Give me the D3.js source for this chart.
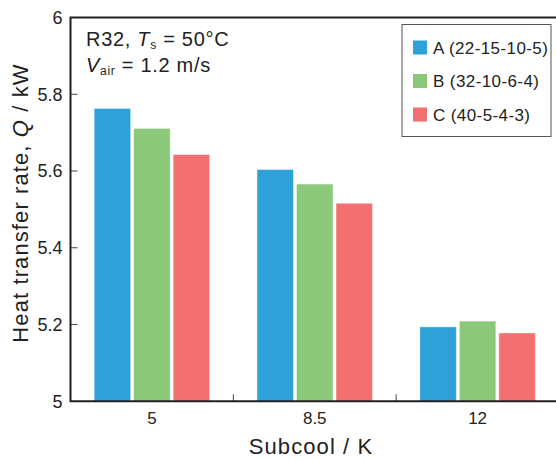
<!DOCTYPE html>
<html><head><meta charset="utf-8">
<script src="https://cdn.jsdelivr.net/npm/d3@7"></script>
<style>
html,body{margin:0;padding:0;background:#fff;}
svg{display:block;font-family:"Liberation Sans",Arial,Helvetica,sans-serif;}
</style></head>
<body>
<svg id="chart" width="556" height="461"></svg>
<script>
const categories = ["5", "8.5", "12"];
const seriesNames = ["A (22-15-10-5)", "B (32-10-6-4)", "C (40-5-4-3)"];
const seriesA = [5.763, 5.604, 5.194];
const seriesB = [5.711, 5.566, 5.209];
const seriesC = [5.643, 5.516, 5.178];
const yTicks = [5, 5.2, 5.4, 5.6, 5.8, 6];
const colors = ["#2ea1d9", "#8bc87a", "#f27070"];

(function () {
const series = [seriesA, seriesB, seriesC];
const svg = d3.select("#chart");
const pLeft = 70.5, pRight = 559, pTop = 17.5, pBottom = 401.3;

const x = d3.scaleBand().domain(categories).range([pLeft, pRight]).padding(0);
const y = d3.scaleLinear().domain([5, 6]).range([pBottom, pTop]);
const inner = d3.scaleBand().domain(d3.range(series.length))
  .range([-57.75, 57.75]).paddingInner(0.076).paddingOuter(0);

// bars
categories.forEach((c, ci) => {
  const cx = x(c) + x.bandwidth() / 2;
  series.forEach((s, si) => {
    svg.append("rect")
      .attr("x", cx + inner(si))
      .attr("y", y(s[ci]))
      .attr("width", inner.bandwidth())
      .attr("height", y(5) - y(s[ci]))
      .attr("fill", colors[si])
      .attr("stroke", "rgba(255,255,255,0.45)")
      .attr("stroke-width", 1);
  });
});

// y axis
const yAxis = d3.axisLeft(y).tickValues(yTicks).tickSize(0).tickPadding(8)
  .tickFormat(d => d3.format("")(d));
const gy = svg.append("g").attr("transform", `translate(${pLeft},0)`).call(yAxis);
gy.select(".domain").remove();
gy.selectAll("text").attr("font-size", 18).attr("fill", "#222")
  .attr("font-family", '"Liberation Sans",Arial,sans-serif');
svg.selectAll(".ytick").data(yTicks.slice(1, -1)).enter().append("line")
  .attr("x1", pLeft).attr("x2", pLeft + 7)
  .attr("y1", d => y(d)).attr("y2", d => y(d))
  .attr("stroke", "#444").attr("stroke-width", 1);

// x axis labels
const xAxis = d3.axisBottom(x).tickSize(0).tickPadding(11);
const gx = svg.append("g").attr("transform", `translate(0,${pBottom})`).call(xAxis);
gx.select(".domain").remove();
gx.selectAll("text").attr("font-size", 17).attr("fill", "#222")
  .attr("font-family", '"Liberation Sans",Arial,sans-serif');
svg.selectAll(".xtick").data(categories.slice(1)).enter().append("line")
  .attr("x1", d => x(d)).attr("x2", d => x(d))
  .attr("y1", pBottom).attr("y2", pBottom - 7)
  .attr("stroke", "#444").attr("stroke-width", 1);

// frame
svg.append("path")
  .attr("d", `M${pRight},${pTop}H${pLeft}V${pBottom}H${pRight}`)
  .attr("fill", "none").attr("stroke", "#231f20").attr("stroke-width", 2);

// axis titles
const yt = svg.append("text")
  .attr("transform", `translate(28,203) rotate(-90)`)
  .attr("text-anchor", "middle").attr("font-size", 22).attr("letter-spacing", 1.1)
  .attr("fill", "#222");
yt.append("tspan").text("Heat transfer rate, ");
yt.append("tspan").attr("font-style", "italic").text("Q");
yt.append("tspan").text(" / kW");

svg.append("text").attr("x", 311).attr("y", 454)
  .attr("text-anchor", "middle").attr("font-size", 22).attr("letter-spacing", 1.1)
  .attr("fill", "#222")
  .text("Subcool / K");

// annotation
const a1 = svg.append("text").attr("x", 86).attr("y", 46).attr("font-size", 20)
  .attr("letter-spacing", 0.7).attr("fill", "#222");
a1.append("tspan").text("R32, ");
a1.append("tspan").attr("font-style", "italic").text("T");
a1.append("tspan").attr("font-size", 12).attr("dy", 3).text("s");
a1.append("tspan").attr("dy", -3).text(" = 50°C");
const a2 = svg.append("text").attr("x", 86).attr("y", 72).attr("font-size", 20)
  .attr("letter-spacing", 0.7).attr("fill", "#222");
a2.append("tspan").attr("font-style", "italic").text("V");
a2.append("tspan").attr("font-size", 12).attr("dy", 3).text("air");
a2.append("tspan").attr("dy", -3).text(" = 1.2 m/s");

// legend
const lg = svg.append("g");
lg.append("rect").attr("x", 402).attr("y", 24.5).attr("width", 149).attr("height", 112)
  .attr("fill", "#fff").attr("stroke", "#555").attr("stroke-width", 1);
seriesNames.forEach((n, i) => {
  const cy = 47.5 + i * 33.5;
  lg.append("rect").attr("x", 413).attr("y", cy - 7).attr("width", 14).attr("height", 14)
    .attr("fill", colors[i]);
  lg.append("text").attr("x", 433).attr("y", cy + 6).attr("font-size", 17)
    .attr("letter-spacing", 0.4).attr("fill", "#222")
    .text(n);
});
})();
</script>
</body></html>
